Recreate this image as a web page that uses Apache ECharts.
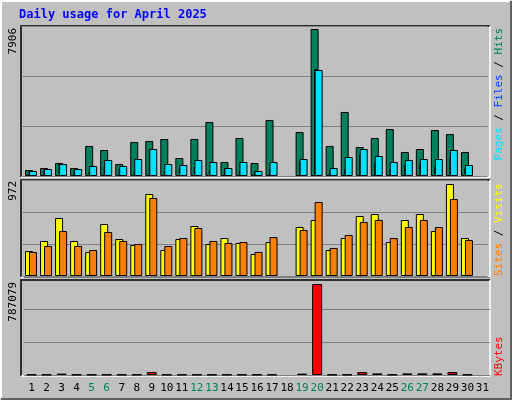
<!DOCTYPE html>
<html><head><meta charset="utf-8">
<script src="https://cdn.jsdelivr.net/npm/echarts@6/dist/echarts.min.js"></script>
<style>html,body{margin:0;padding:0;background:#c0c0c0}#c{width:512px;height:400px}</style>
</head><body><div id="c"></div>
<script>
const days = ['1','2','3','4','5','6','7','8','9','10','11','12','13','14','15','16','17','18','19','20','21','22','23','24','25','26','27','28','29','30','31'];
const weekend = ['5','6','12','13','19','20','26','27'];
const hits  = [323,430,700,430,1614,1400,645,1829,1883,1990,968,1990,2905,753,2044,700,3012,0,2367,7906,1614,3443,1560,2044,2528,1291,1452,2474,2259,1291,0];
const files = [269,377,645,377,538,861,538,914,1452,645,592,861,753,430,753,269,753,0,914,5702,430,1022,1452,1076,753,861,914,914,1399,592,0];
const pages = [300,377,700,377,269,538,430,323,1399,269,430,538,323,430,323,269,377,0,807,5756,269,377,1183,700,377,592,645,538,1022,430,0];
const sites  = [264,370,613,370,254,549,391,327,866,275,391,528,338,401,349,232,359,0,518,592,275,401,634,655,359,592,655,475,972,401,0];
const visits = [254,317,475,317,275,465,370,338,824,317,401,507,370,349,359,254,412,0,486,782,296,433,570,592,401,518,592,518,813,380,0];
const kbytes = [3000,3000,12000,3000,3000,3000,3000,3000,25000,3000,3000,3000,3000,3000,3000,3000,3000,0,12000,787079,3000,3000,25000,14000,3000,14000,14000,14000,25000,3000,0];
const maxLabels = ['7906','972','787079'];

const chart = echarts.init(document.getElementById('c'));
const F = '"DejaVu Sans Mono", monospace';
const panels = [[26,150,7906*150/147],[180,96,972*96/92],[277,98,787079*98/91]];
const gridDefs = [[21.5,24.5,0],[22.5,23.5,0],[25.5,20.5,0],[21.5,24.5,1],[25.5,20.5,1],[24,22,2]];
const grids = gridDefs.map(g=>({left:g[0],right:g[1],top:panels[g[2]][0],height:panels[g[2]][1]}));
const xAxis = gridDefs.map((g,i)=>({type:'category',data:days,gridIndex:i,
  axisLine:{show:false},axisTick:{show:false},
  axisLabel:{show:i===5,interval:0,fontFamily:F,fontSize:11,margin:8,color:(v)=>weekend.includes(v)?'#00805c':'#000'}}));
const yAxis = gridDefs.map((g,i)=>{const m=panels[g[2]][2];return {type:'value',gridIndex:i,min:0,max:m,interval:m/3,
  axisLine:{show:false},axisTick:{show:false},axisLabel:{show:false},
  splitLine:{show:(i===0||i===3||i===5),lineStyle:{color:'#808080',width:1}}};});
function bar(data,i,w,c){return {type:'bar',data:data.map(v=>v===0?'-':v),xAxisIndex:i,yAxisIndex:i,barWidth:w,silent:true,
  itemStyle:{color:c,borderColor:'#000',borderWidth:1},animation:false};}
const rich={h:{fill:'#00805c',font:'11px '+F},f:{fill:'#0040ff',font:'11px '+F},p:{fill:'#00e0ff',font:'11px '+F},
 s:{fill:'#000',font:'11px '+F},si:{fill:'#ff8000',font:'11px '+F},v:{fill:'#ffff00',font:'11px '+F},k:{fill:'#ff0000',font:'11px '+F}};
const frames=[[21,26,469,151],[21,180,469,97],[21,280,469,96]].map(r=>({type:'group',children:[
  {type:'polyline',shape:{points:[[r[0],r[1]+r[3]],[r[0],r[1]],[r[0]+r[2],r[1]]]},style:{stroke:'#000',lineWidth:1.5,fill:null}},
  {type:'polyline',shape:{points:[[r[0]+r[2],r[1]],[r[0]+r[2],r[1]+r[3]],[r[0],r[1]+r[3]]]},style:{stroke:'#fff',lineWidth:1.5,fill:null}}]}));
chart.setOption({
  backgroundColor:'#c0c0c0', animation:false,
  grid:grids, xAxis:xAxis, yAxis:yAxis,
  series:[bar(hits,0,8,'#00805c'),bar(pages,1,3,'#0040ff'),bar(files,2,8,'#00e0ff'),
          bar(sites,3,8,'#ffff00'),bar(visits,4,8,'#ff8000'),bar(kbytes,5,10,'#ff0000')],
  graphic:[
    {type:'polyline',shape:{points:[[1,399],[1,1],[511,1]]},style:{stroke:'#fff',lineWidth:2,fill:null}},
    {type:'polyline',shape:{points:[[511,1],[511,399],[1,399]]},style:{stroke:'#606060',lineWidth:2,fill:null}},
    {type:'text',x:19,y:9,style:{text:'Daily usage for April 2025',font:'bold 12px '+F,fill:'#0000ff'}},
    ...frames,
    {type:'text',x:8,y:28,rotation:Math.PI/2,style:{text:maxLabels[0],font:'11px '+F,fill:'#000',textAlign:'right'}},
    {type:'text',x:8,y:181,rotation:Math.PI/2,style:{text:maxLabels[1],font:'11px '+F,fill:'#000',textAlign:'right'}},
    {type:'text',x:8,y:282,rotation:Math.PI/2,style:{text:maxLabels[2],font:'11px '+F,fill:'#000',textAlign:'right'}},
    {type:'text',x:494,y:28,rotation:Math.PI/2,style:{text:'{p|Pages}{s| / }{f|Files}{s| / }{h|Hits}',rich:rich,font:'11px '+F,textAlign:'right'}},
    {type:'text',x:494,y:276,rotation:Math.PI/2,style:{text:'{si|Sites}{s| / }{v|Visits}',rich:rich,font:'11px '+F,textAlign:'left'}},
    {type:'text',x:494,y:376,rotation:Math.PI/2,style:{text:'{k|KBytes}',rich:rich,font:'11px '+F,textAlign:'left'}}
  ]
});
</script></body></html>
